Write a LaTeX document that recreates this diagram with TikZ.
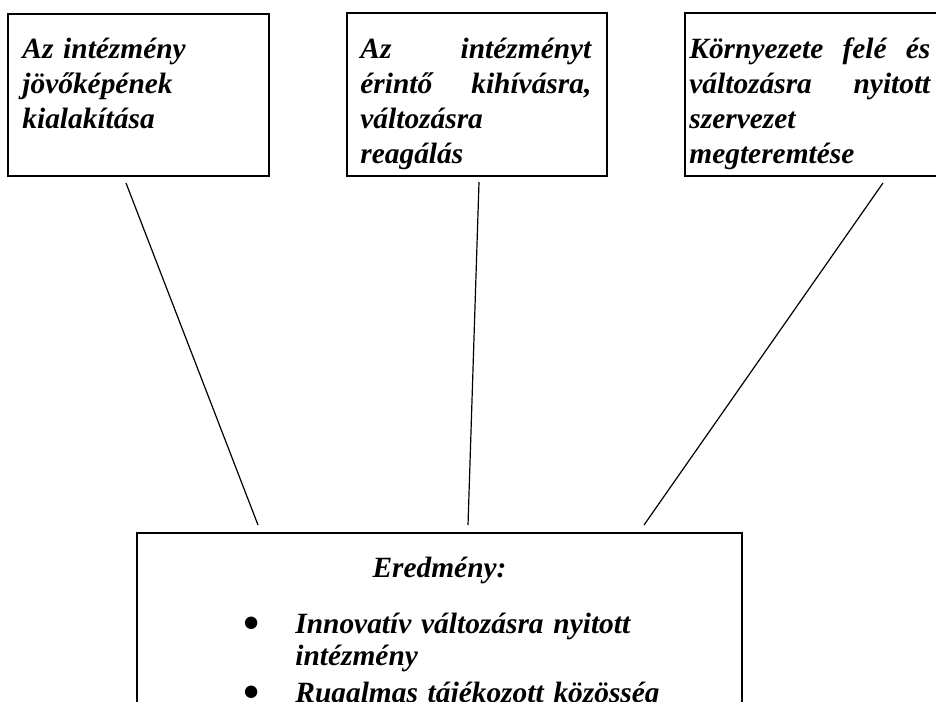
\documentclass[tikz,border=0pt]{standalone}
\usepackage{fontspec}
\setmainfont{Liberation Serif}
\usetikzlibrary{fit}
\newcommand\bulmark{\raisebox{-3.5pt}{\normalfont\upshape\fontsize{26pt}{26pt}\selectfont •}}
\begin{document}
\begin{tikzpicture}[x=0.5pt,y=-0.5pt,
  box/.style={draw,line width=1pt,inner sep=0pt},
  conn/.style={line width=0.6pt},
  txt/.style={inner sep=0pt,anchor=base west,align=left,font=\bfseries\itshape\fontsize{14.7pt}{17.35pt}\selectfont},
  txtb/.style={inner sep=0pt,align=left,font=\bfseries\itshape\fontsize{14.7pt}{16pt}\selectfont}]
\useasboundingbox (0,0) rectangle (936,701);
% boxes
\node[box,fit={(8,14) (269,176)}] (b1) {};
\node[box,fit={(347,13) (607,176)}] (b2) {};
\node[box,fit={(685,13) (945,176)}] (b3) {};
\node[box,fit={(137,533) (742,712)}] (b4) {};
% texts
\node[txt,text width=116.5pt] (t1) at (22,59) {Az intézmény\\jövőképének\\kialakítása};
\node[txt,text width=115.5pt] (t2) at (360,59) {\makebox[115.5pt][l]{Az\hfill intézményt}\\\makebox[115.5pt][l]{érintő\hfill kihívásra,}\\változásra\\reagálás};
\node[txt,text width=120.5pt] (t3) at (689,59) {\makebox[120.5pt][l]{Környezete\hfill felé\hfill és}\\\makebox[120.5pt][l]{változásra\hfill nyitott}\\szervezet\\megteremtése};
\node[txtb,anchor=base] (t4) at (439.5,577) {Eredmény:};
\node[txtb,anchor=base west,text width=200pt] (t5) at (295,633) {\leavevmode\llap{\bulmark\hspace{17.2pt}}Innovatív változásra nyitott\\intézmény\\[2.5pt]\leavevmode\llap{\bulmark\hspace{17.2pt}}Rugalmas tájékozott közösség};
% connectors
\coordinate (p1) at (126,183); \coordinate (q1) at (258,525);
\coordinate (p2) at (479,182); \coordinate (q2) at (468,525);
\coordinate (p3) at (883,183); \coordinate (q3) at (644,525);
\draw[conn] (p1) -- (q1);
\draw[conn] (p2) -- (q2);
\draw[conn] (p3) -- (q3);
\end{tikzpicture}
\end{document}
